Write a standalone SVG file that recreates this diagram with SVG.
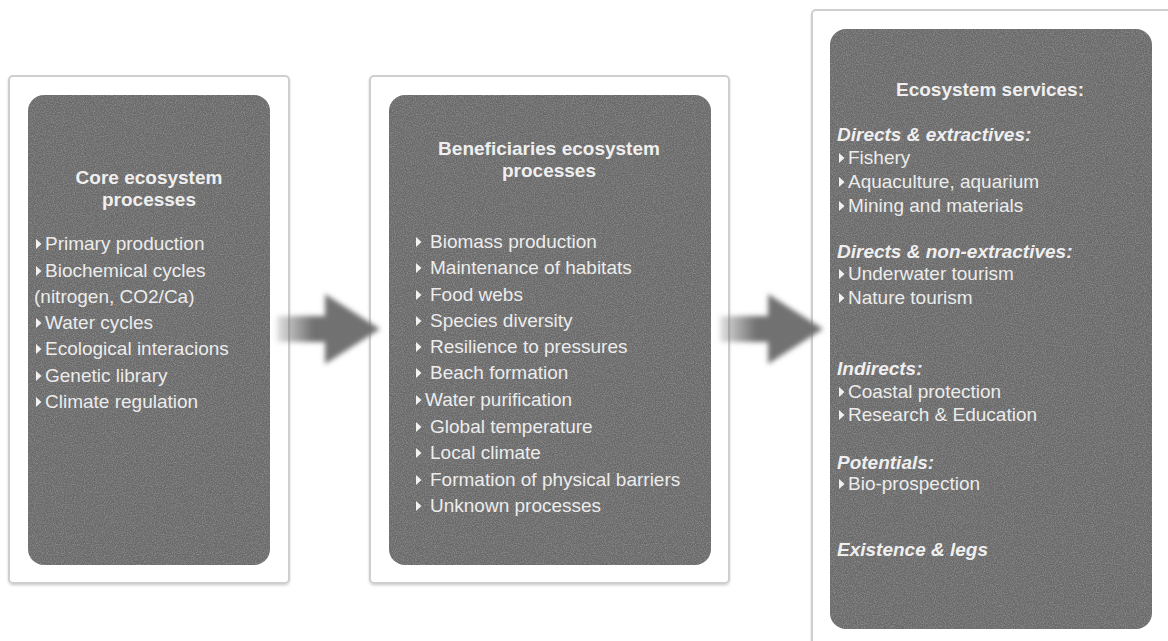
<svg xmlns="http://www.w3.org/2000/svg" width="1168" height="641" viewBox="0 0 1168 641">
  <defs>
    <style>
      .frame { fill: #ffffff; stroke: #cfcfcf; stroke-width: 2; }
      .grain { fill: #6a6a6a; filter: url(#grain); }
      .title { font-family: "Liberation Sans", Arial, sans-serif; font-size: 19px; font-weight: bold; fill: #efefef; text-anchor: middle; }
      .item { font-family: "Liberation Sans", Arial, sans-serif; font-size: 19px; fill: #ececec; }
      .head { font-family: "Liberation Sans", Arial, sans-serif; font-size: 19px; font-weight: bold; font-style: italic; fill: #efefef; }
      .bullet { fill: #f2f2f2; }
      .arrow { fill: url(#arrowFade); filter: url(#soft); }
    </style>
    <filter id="grain" x="0" y="0" width="100%" height="100%">
      <feTurbulence type="fractalNoise" baseFrequency="0.9" numOctaves="2" seed="3" result="noise"/>
      <feColorMatrix in="noise" type="matrix" values="0 0 0 0 0.42  0 0 0 0 0.42  0 0 0 0 0.42  0 0 0 -0.9 0.55" result="speck"/>
      <feComposite in="speck" in2="SourceGraphic" operator="in" result="clipped"/>
      <feMerge><feMergeNode in="SourceGraphic"/><feMergeNode in="clipped"/></feMerge>
    </filter>
    <filter id="shadow" x="-5%" y="-5%" width="110%" height="110%">
      <feDropShadow dx="0" dy="1.5" stdDeviation="1" flood-color="#000" flood-opacity="0.18"/>
    </filter>
    <filter id="soft" x="-20%" y="-20%" width="140%" height="140%">
      <feGaussianBlur stdDeviation="2.6"/>
    </filter>
    <linearGradient id="arrowFade" x1="0" y1="0" x2="1" y2="0">
      <stop offset="0" stop-color="#6a6a6a" stop-opacity="0.2"/>
      <stop offset="0.35" stop-color="#6a6a6a" stop-opacity="0.95"/>
      <stop offset="1" stop-color="#6a6a6a" stop-opacity="0.95"/>
    </linearGradient>
    <path id="tri" d="M0,-5 L5.5,0 L0,5 Z"/>
  </defs>

  <rect width="1168" height="641" fill="#ffffff"/>

  <!-- Column 1: core processes -->
  <g id="core-processes">
    <rect class="frame" x="9" y="76" width="280" height="507" rx="4" filter="url(#shadow)"/>
    <rect class="grain" x="28" y="95" width="242" height="470" rx="16"/>
    <text class="title" x="149" y="184">Core ecosystem</text>
    <text class="title" x="149" y="206">processes</text>
    <g class="bullet">
      <use href="#tri" x="36" y="244"/>
      <use href="#tri" x="36" y="271"/>
      <use href="#tri" x="36" y="323"/>
      <use href="#tri" x="36" y="349"/>
      <use href="#tri" x="36" y="376"/>
      <use href="#tri" x="36" y="402"/>
    </g>
    <text class="item" x="45" y="250">Primary production</text>
    <text class="item" x="45" y="277">Biochemical cycles</text>
    <text class="item" x="34" y="303">(nitrogen, CO2/Ca)</text>
    <text class="item" x="45" y="329">Water cycles</text>
    <text class="item" x="45" y="355">Ecological interacions</text>
    <text class="item" x="45" y="382">Genetic library</text>
    <text class="item" x="45" y="408">Climate regulation</text>
  </g>

  <!-- Column 2: beneficiary processes -->
  <g id="beneficiary-processes">
    <rect class="frame" x="370" y="76" width="359" height="507" rx="4" filter="url(#shadow)"/>
    <rect class="grain" x="389" y="95" width="322" height="470" rx="16"/>
    <text class="title" x="549" y="155">Beneficiaries ecosystem</text>
    <text class="title" x="549" y="177">processes</text>
    <g class="bullet">
      <use href="#tri" x="416" y="242"/>
      <use href="#tri" x="416" y="268"/>
      <use href="#tri" x="416" y="295"/>
      <use href="#tri" x="416" y="321"/>
      <use href="#tri" x="416" y="347"/>
      <use href="#tri" x="416" y="373"/>
      <use href="#tri" x="416" y="400"/>
      <use href="#tri" x="416" y="427"/>
      <use href="#tri" x="416" y="453"/>
      <use href="#tri" x="416" y="480"/>
      <use href="#tri" x="416" y="506"/>
    </g>
    <text class="item" x="430" y="248">Biomass production</text>
    <text class="item" x="430" y="274">Maintenance of habitats</text>
    <text class="item" x="430" y="301">Food webs</text>
    <text class="item" x="430" y="327">Species diversity</text>
    <text class="item" x="430" y="353">Resilience to pressures</text>
    <text class="item" x="430" y="379">Beach formation</text>
    <text class="item" x="425" y="406">Water purification</text>
    <text class="item" x="430" y="433">Global temperature</text>
    <text class="item" x="430" y="459">Local climate</text>
    <text class="item" x="430" y="486">Formation of physical barriers</text>
    <text class="item" x="430" y="512">Unknown processes</text>
  </g>

  <!-- Column 3: ecosystem services -->
  <g id="ecosystem-services">
    <rect class="frame" x="812" y="10" width="366" height="640" rx="4" filter="url(#shadow)"/>
    <rect class="grain" x="830" y="29" width="322" height="600" rx="16"/>
    <text class="title" x="990" y="96">Ecosystem services:</text>
    <g class="bullet">
      <use href="#tri" x="839" y="158"/>
      <use href="#tri" x="839" y="182"/>
      <use href="#tri" x="839" y="206"/>
      <use href="#tri" x="839" y="274"/>
      <use href="#tri" x="839" y="298"/>
      <use href="#tri" x="839" y="392"/>
      <use href="#tri" x="839" y="415"/>
      <use href="#tri" x="839" y="484"/>
    </g>
    <text class="head" x="837" y="141">Directs &amp; extractives:</text>
    <text class="item" x="848" y="164">Fishery</text>
    <text class="item" x="848" y="188">Aquaculture, aquarium</text>
    <text class="item" x="848" y="212">Mining and materials</text>
    <text class="head" x="837" y="258">Directs &amp; non-extractives:</text>
    <text class="item" x="848" y="280">Underwater tourism</text>
    <text class="item" x="848" y="304">Nature tourism</text>
    <text class="head" x="837" y="375">Indirects:</text>
    <text class="item" x="848" y="398">Coastal protection</text>
    <text class="item" x="848" y="421">Research &amp; Education</text>
    <text class="head" x="837" y="469">Potentials:</text>
    <text class="item" x="848" y="490">Bio-prospection</text>
    <text class="head" x="837" y="556">Existence &amp; legs</text>
  </g>

  <!-- Connectors: block arrows between columns -->
  <g id="connectors">
    <path class="arrow" d="M277,316 L325,316 L325,294 L380,329 L325,364 L325,342 L277,342 Z"/>
    <path class="arrow" d="M720,316 L768,316 L768,294 L823,329 L768,364 L768,342 L720,342 Z"/>
  </g>
</svg>
